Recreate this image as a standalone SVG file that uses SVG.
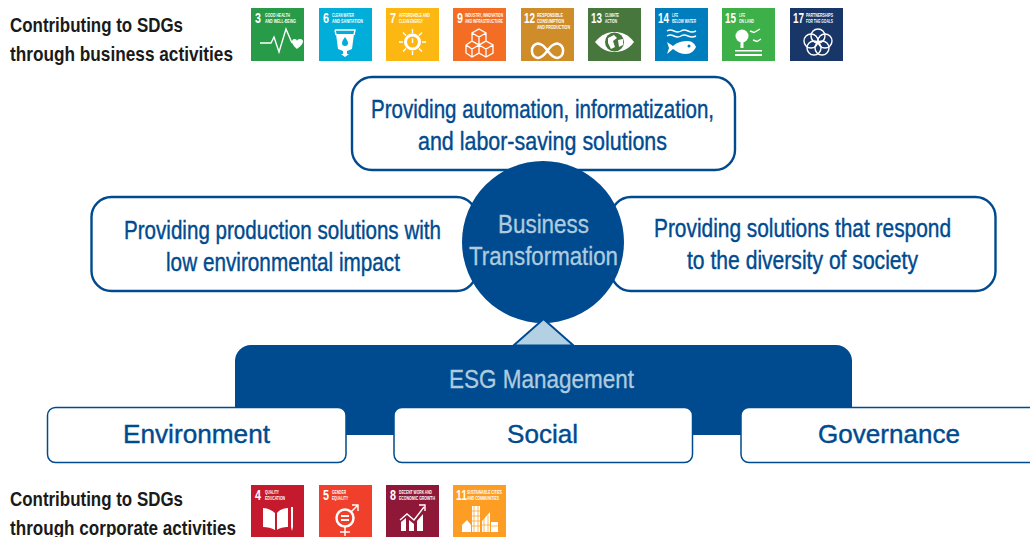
<svg xmlns="http://www.w3.org/2000/svg" width="1030" height="537" viewBox="0 0 1030 537">
<style>
text{font-family:"Liberation Sans",Arial,sans-serif}
.box{fill:#fff;stroke:#004b8f;stroke-width:2.4}
.pill{fill:#fff;stroke:#004b8f;stroke-width:1.5}
.m{font-size:25px;fill:#004b8f;stroke:#004b8f;stroke-width:.4;text-anchor:middle}
.c{font-size:25px;fill:#aecbdf;stroke:#aecbdf;stroke-width:.3;text-anchor:middle}
.p{font-size:26px;fill:#004b8f;stroke:#004b8f;stroke-width:.4;text-anchor:middle}
.h{font-size:21px;font-weight:700;fill:#1a1a1a}
.n{font-size:14px;font-weight:700;fill:#fff}
.t{font-size:5.5px;font-weight:700;fill:#fff}
.t3{font-size:4.8px;font-weight:700;fill:#fff}
.l{fill:none;stroke:#fff;stroke-width:1.4}
.f{fill:#fff}
</style>

<g id="label-business">
<text class="h" x="10" y="32" textLength="173" lengthAdjust="spacingAndGlyphs">Contributing to SDGs</text>
<text class="h" x="10" y="61" textLength="223" lengthAdjust="spacingAndGlyphs">through business activities</text>
</g>
<g id="label-corporate">
<text class="h" x="10" y="506" textLength="173" lengthAdjust="spacingAndGlyphs">Contributing to SDGs</text>
<text class="h" x="10" y="535" textLength="226" lengthAdjust="spacingAndGlyphs">through corporate activities</text>
</g>

<g id="sdg3" transform="translate(251 8)"><rect width="53" height="53" fill="#279b48"/>
<text class="n" x="4" y="15" textLength="6" lengthAdjust="spacingAndGlyphs">3</text>
<text class="t" x="14" y="9" textLength="25" lengthAdjust="spacingAndGlyphs">GOOD HEALTH</text><text class="t" x="14" y="15" textLength="31" lengthAdjust="spacingAndGlyphs">AND WELL-BEING</text>
<path class="l" d="M9 35H20L23 29L28 44L35 21L41 35"/><path class="f" d="M41 33C42 30 46 31 46 33C46 31 51 30 52 33C52 37 48 39 46 41C44 39 41 37 41 33Z"/></g>

<g id="sdg6" transform="translate(319 8)"><rect width="53" height="53" fill="#00aed9"/>
<text class="n" x="4" y="15" textLength="6" lengthAdjust="spacingAndGlyphs">6</text>
<text class="t" x="13" y="9" textLength="22" lengthAdjust="spacingAndGlyphs">CLEAN WATER</text><text class="t" x="13" y="15" textLength="31" lengthAdjust="spacingAndGlyphs">AND SANITATION</text>
<path class="f" d="M17 26H35L33 41L28 43V46L30 46L26 49L22 46L24 46V43L19 41Z"/><path d="M26 29C28 32 29 33 29 35A3 3 0 0 1 23 35C23 33 24 32 26 29Z" fill="#00aed9"/><path class="l" d="M16 22H36L35 27M16 22L17 27" stroke-width="1"/></g>

<g id="sdg7" transform="translate(386 8)"><rect width="53" height="53" fill="#fdb713"/>
<text class="n" x="4" y="15" textLength="6" lengthAdjust="spacingAndGlyphs">7</text>
<text class="t" x="13" y="9" textLength="31" lengthAdjust="spacingAndGlyphs">AFFORDABLE AND</text><text class="t" x="13" y="15" textLength="24" lengthAdjust="spacingAndGlyphs">CLEAN ENERGY</text>
<circle cx="26.500" cy="34" r="7" fill="none" stroke="#fff" stroke-width="3"/><path class="l" d="M26.500 30.500V35M26.500 21V25M26.500 43V47M13 34H17M36 34H40M17 24.500L20 27.500M36 24.500L33 27.500M17 43.500L20 40.500M36 43.500L33 40.500"/></g>

<g id="sdg9" transform="translate(453 8)"><rect width="53" height="53" fill="#f36e24"/>
<text class="n" x="4" y="15" textLength="6" lengthAdjust="spacingAndGlyphs">9</text>
<text class="t" x="12" y="9" textLength="38" lengthAdjust="spacingAndGlyphs">INDUSTRY, INNOVATION</text><text class="t" x="12" y="15" textLength="38" lengthAdjust="spacingAndGlyphs">AND INFRASTRUCTURE</text>
<path d="M26 21L33 25V33L26 37L19 33V25ZM19 33L26 37V45L19 49L13 45V37ZM33 33L40 37V45L33 49L26 45V37ZM19 25L26 29L33 25M26 29V37M13 37L19 41L26 37M19 41V49M26 37L33 41L40 37M33 41V49" fill="none" stroke="#fff" stroke-width="1.300"/></g>

<g id="sdg12" transform="translate(521 8)"><rect width="53" height="53" fill="#cf8d2a"/>
<text class="n" x="3" y="15" textLength="11" lengthAdjust="spacingAndGlyphs">12</text>
<text class="t3" x="16" y="9" textLength="26" lengthAdjust="spacingAndGlyphs">RESPONSIBLE</text><text class="t3" x="16" y="15" textLength="27" lengthAdjust="spacingAndGlyphs">CONSUMPTION</text><text class="t3" x="16" y="21" textLength="33" lengthAdjust="spacingAndGlyphs">AND PRODUCTION</text>
<path d="M26.500 42.500C23 37.500 20 35.500 16.500 35.500A7.500 7.500 0 0 0 16.500 50C20 50 23 47.500 26.500 42.500C30 37.500 33 35.500 36.500 35.500A7.500 7.500 0 0 1 36.500 50C33 50 30 47.500 26.500 42.500Z" fill="none" stroke="#fff" stroke-width="2.500"/></g>

<g id="sdg13" transform="translate(588 8)"><rect width="53" height="53" fill="#48773e"/>
<text class="n" x="3" y="15" textLength="11" lengthAdjust="spacingAndGlyphs">13</text>
<text class="t" x="17" y="9" textLength="14" lengthAdjust="spacingAndGlyphs">CLIMATE</text><text class="t" x="17" y="15" textLength="12" lengthAdjust="spacingAndGlyphs">ACTION</text>
<path class="f" d="M7 34C14 26 20 24 26.500 24C33 24 40 26 46 34C40 42 33 44 26.500 44C20 44 14 42 7 34Z"/><circle cx="26.500" cy="34" r="9.500" fill="#48773e"/><path class="f" d="M20 30L26 27L29 30L25 33L27 39L23 41L20 35ZM30 32L35 31L35 37L31 39Z"/></g>

<g id="sdg14" transform="translate(655 8)"><rect width="53" height="53" fill="#007dbc"/>
<text class="n" x="3" y="15" textLength="11" lengthAdjust="spacingAndGlyphs">14</text>
<text class="t" x="17" y="9" textLength="6" lengthAdjust="spacingAndGlyphs">LIFE</text><text class="t" x="17" y="15" textLength="24" lengthAdjust="spacingAndGlyphs">BELOW WATER</text>
<path class="l" d="M12 23Q15 21 19 23T26 23T33 23T41 23M12 28Q15 26 19 28T26 28T33 28T41 28" stroke-width="1.300"/><path class="f" d="M12 34L18 38C22 34 28 33 33 33C37 33 40 36 41 39C39 43 36 46 31 46C26 46 22 44 18 41L12 46L14 40Z"/><circle cx="34" cy="38" r="1.500" fill="#007dbc"/></g>

<g id="sdg15" transform="translate(722 8)"><rect width="53" height="53" fill="#3eb049"/>
<text class="n" x="3" y="15" textLength="11" lengthAdjust="spacingAndGlyphs">15</text>
<text class="t" x="17" y="9" textLength="6" lengthAdjust="spacingAndGlyphs">LIFE</text><text class="t" x="17" y="15" textLength="15" lengthAdjust="spacingAndGlyphs">ON LAND</text>
<circle class="f" cx="20" cy="28" r="6.500"/><rect class="f" x="18.500" y="32" width="3" height="8"/><path class="f" d="M13 42H40V43.500H13ZM13 46H40V48H13Z"/><path class="l" d="M28 23L32 24.500L38 21M31 32L35 33.500L39 31" stroke-width="1"/></g>

<g id="sdg17" transform="translate(790 8)"><rect width="53" height="53" fill="#183668"/>
<text class="n" x="3" y="15" textLength="11" lengthAdjust="spacingAndGlyphs">17</text>
<text class="t" x="16" y="9" textLength="27" lengthAdjust="spacingAndGlyphs">PARTNERSHIPS</text><text class="t" x="16" y="15" textLength="27" lengthAdjust="spacingAndGlyphs">FOR THE GOALS</text>
<g fill="none" stroke="#fff" stroke-width="1.400"><circle cx="28" cy="28" r="7"/><circle cx="21" cy="33" r="7"/><circle cx="35" cy="33" r="7"/><circle cx="24" cy="40" r="7"/><circle cx="32" cy="40" r="7"/></g></g>

<g id="sdg4" transform="translate(251 485)"><rect width="53" height="53" fill="#c5192d"/>
<text class="n" x="4" y="15" textLength="6" lengthAdjust="spacingAndGlyphs">4</text>
<text class="t" x="14" y="9" textLength="14" lengthAdjust="spacingAndGlyphs">QUALITY</text><text class="t" x="14" y="15" textLength="20" lengthAdjust="spacingAndGlyphs">EDUCATION</text>
<path class="f" d="M12 23C16 23 21 25 24 28V45C21 43 16 42 12 42ZM37 23C33 23 28 25 26 28V45C28 43 33 42 37 42Z"/><path class="f" d="M40 22H42V42L41 46L40 42Z"/></g>

<g id="sdg5" transform="translate(319 485)"><rect width="53" height="53" fill="#f0402b"/>
<text class="n" x="4" y="15" textLength="6" lengthAdjust="spacingAndGlyphs">5</text>
<text class="t" x="13" y="9" textLength="14" lengthAdjust="spacingAndGlyphs">GENDER</text><text class="t" x="13" y="15" textLength="16" lengthAdjust="spacingAndGlyphs">EQUALITY</text>
<circle cx="26" cy="33" r="8.500" fill="none" stroke="#fff" stroke-width="2.500"/><path class="f" d="M22 30H30V32H22ZM22 34H30V36H22Z"/><path class="l" d="M26 42V51M21 47H31M32 27L38 21M33 20H39V26" stroke-width="2.200"/></g>

<g id="sdg8" transform="translate(386 485)"><rect width="53" height="53" fill="#8f1838"/>
<text class="n" x="4" y="15" textLength="6" lengthAdjust="spacingAndGlyphs">8</text>
<text class="t" x="13" y="9" textLength="33" lengthAdjust="spacingAndGlyphs">DECENT WORK AND</text><text class="t" x="13" y="15" textLength="36" lengthAdjust="spacingAndGlyphs">ECONOMIC GROWTH</text>
<path class="f" d="M15 37L20 33V46H15ZM23 35L28 39V46H23ZM31 36L37 29V46H31Z"/><path class="l" d="M14 35L21 29L28 35L38 22M33 20H39V26" stroke-width="1.800"/></g>

<g id="sdg11" transform="translate(453 485)"><rect width="53" height="53" fill="#fd9d24"/>
<text class="n" x="3" y="15" textLength="11" lengthAdjust="spacingAndGlyphs">11</text>
<text class="t" x="14" y="9" textLength="35" lengthAdjust="spacingAndGlyphs">SUSTAINABLE CITIES</text><text class="t" x="14" y="15" textLength="32" lengthAdjust="spacingAndGlyphs">AND COMMUNITIES</text>
<path class="f" d="M19 21H27V47H19ZM29 47V36L37 27V47ZM38 37H45V47H38ZM9 40L14 35L18 40V47H9Z"/><path d="M21 21V47M25 21V47M19 26H27M19 31H27M19 36H27M19 41H27M31 33V47M35 30V47M29 40H37M38 41H45" stroke="#fd9d24" stroke-width=".7" fill="none"/></g>

<g id="connectors"></g>

<g id="automation">
<rect class="box" x="352" y="77" width="383" height="93" rx="20"/>
<text class="m" x="542.500" y="117.500" textLength="343" lengthAdjust="spacingAndGlyphs">Providing automation, informatization,</text>
<text class="m" x="542.500" y="149.500" textLength="249" lengthAdjust="spacingAndGlyphs">and labor-saving solutions</text>
</g>
<g id="production">
<rect class="box" x="91.500" y="197" width="385" height="94" rx="20"/>
<text class="m" x="282.500" y="238.500" textLength="317" lengthAdjust="spacingAndGlyphs">Providing production solutions with</text>
<text class="m" x="283" y="270.500" textLength="234" lengthAdjust="spacingAndGlyphs">low environmental impact</text>
</g>
<g id="diversity">
<rect class="box" x="611" y="197" width="384.500" height="94" rx="20"/>
<text class="m" x="802.500" y="236.500" textLength="297" lengthAdjust="spacingAndGlyphs">Providing solutions that respond</text>
<text class="m" x="802.500" y="268.500" textLength="231" lengthAdjust="spacingAndGlyphs">to the diversity of society</text>
</g>
<g id="business-transformation">
<circle cx="543" cy="242" r="81" fill="#004b8f"/>
<text class="c" x="543.500" y="233" textLength="91" lengthAdjust="spacingAndGlyphs">Business</text>
<text class="c" x="543.500" y="265" textLength="149" lengthAdjust="spacingAndGlyphs">Transformation</text>
</g>
<g id="esg-management">
<path d="M513.500 345.500L543.500 319L573.500 345.500Z" fill="#b3d1e3" stroke="#004b8f" stroke-width="2"/>
<path d="M235 435V361A16 16 0 0 1 251 345H836A16 16 0 0 1 852 361V435Z" fill="#004b8f"/>
<text class="c" x="541.500" y="387.500" textLength="185" lengthAdjust="spacingAndGlyphs">ESG Management</text>
</g>
<g id="environment">
<rect class="pill" x="47.500" y="407.500" width="298.500" height="55" rx="8"/>
<text class="p" x="196.500" y="443" textLength="147" lengthAdjust="spacingAndGlyphs">Environment</text>
</g>
<g id="social">
<rect class="pill" x="394" y="407.500" width="298.500" height="55" rx="8"/>
<text class="p" x="542.500" y="443" textLength="71" lengthAdjust="spacingAndGlyphs">Social</text>
</g>
<g id="governance">
<rect class="pill" x="741" y="407.500" width="298.500" height="55" rx="8"/>
<text class="p" x="889" y="443" textLength="142" lengthAdjust="spacingAndGlyphs">Governance</text>
</g>
</svg>
